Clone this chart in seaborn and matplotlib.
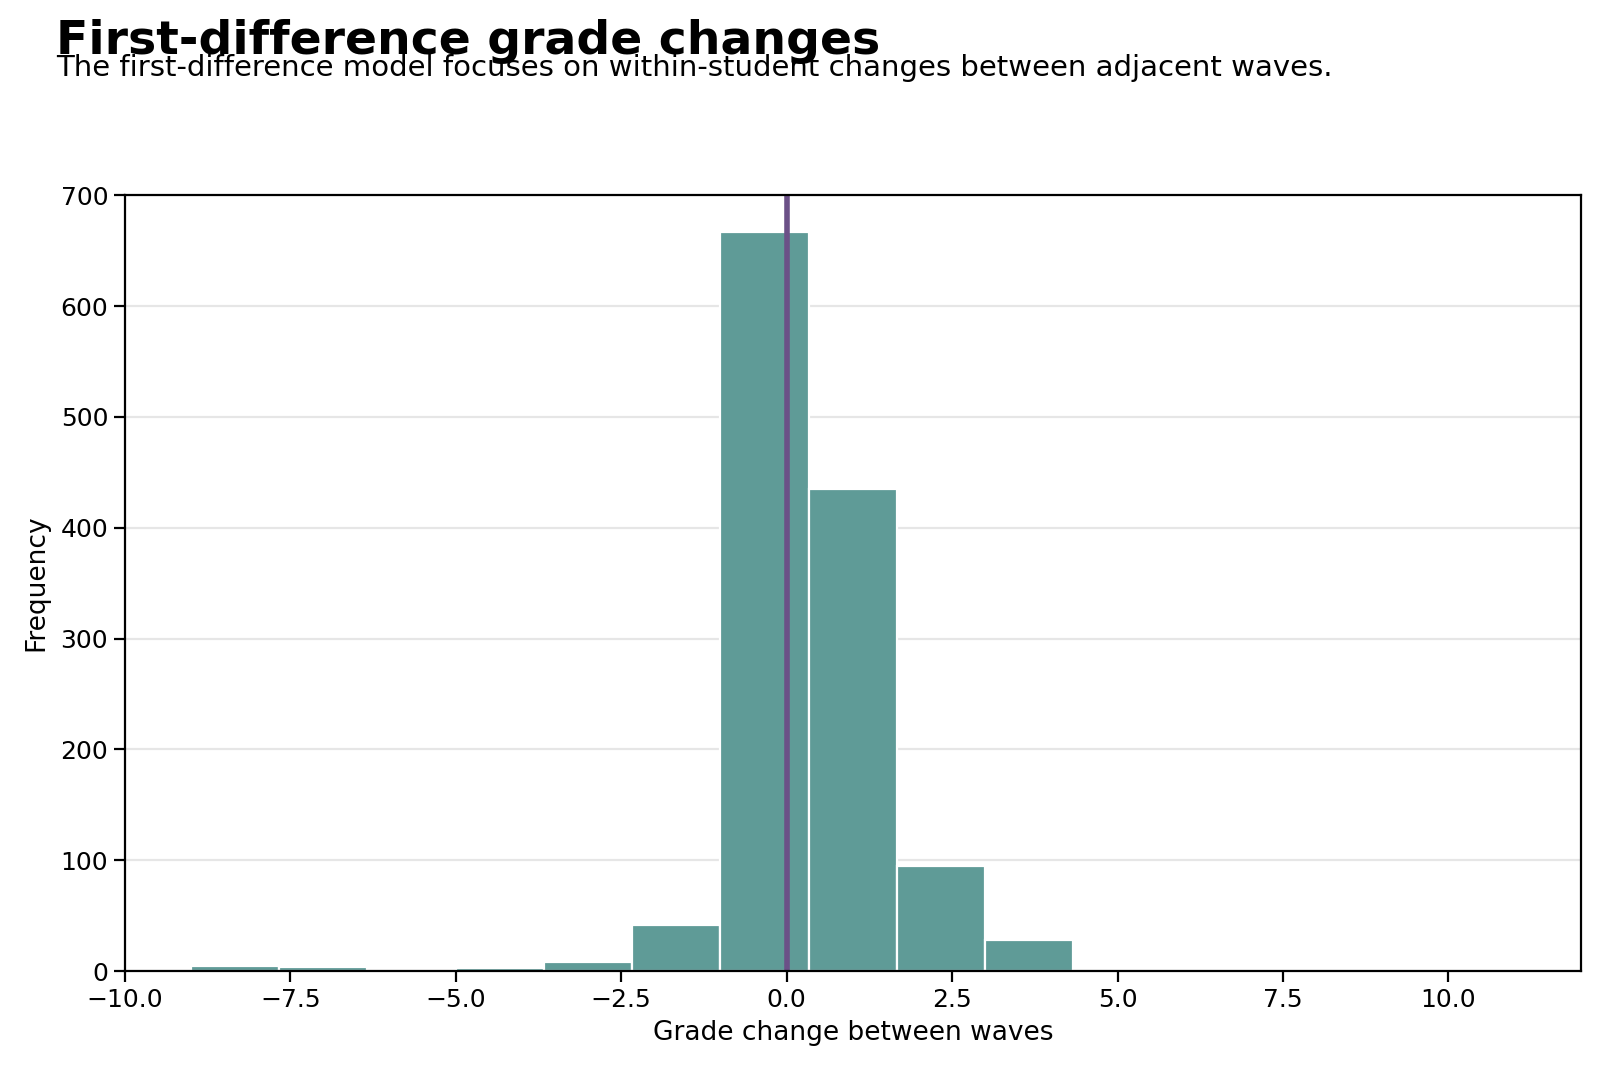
import numpy as np
import pandas as pd
import matplotlib
matplotlib.use("Agg")
import matplotlib.pyplot as plt
import seaborn as sns

# Histogram: 15 bins from -9 to 11, counts
bin_low = -9
bin_high = 11
n_bins = 15
bin_counts = [5, 4, 0, 3, 8, 42, 667, 435, 95, 28, 0, 0, 0, 0, 0]

title = "First-difference grade changes"
subtitle = "The first-difference model focuses on within-student changes between adjacent waves."
xlabel = "Grade change between waves"
ylabel = "Frequency"

sns.set_theme(style="ticks")
plt.rcParams['font.family'] = ['DejaVu Sans']
plt.rcParams['text.color'] = 'black'
plt.rcParams['axes.labelcolor'] = 'black'
plt.rcParams['xtick.color'] = 'black'
plt.rcParams['ytick.color'] = 'black'

bin_edges = np.linspace(bin_low, bin_high, n_bins + 1)
centers = (bin_edges[:-1] + bin_edges[1:]) / 2
df = pd.DataFrame({"change": centers, "count": np.array(bin_counts, dtype=float)})

fig = plt.figure(figsize=(8, 5.365), dpi=200)
ax = fig.add_axes([0.078, 0.095, 0.910, 0.723])

sns.histplot(data=df, x="change", weights="count", bins=n_bins,
             binrange=(bin_low, bin_high), ax=ax,
             color="#5f9b97", alpha=1.0, edgecolor="white", linewidth=0.8)
ax.axvline(0, color="#6b5087", linewidth=2)

ax.set_ylim(0, 700)
ax.set_xlim(-10, 12)
ax.set_xticks([-10, -7.5, -5, -2.5, 0, 2.5, 5, 7.5, 10])
ax.set_xticklabels(["\u221210.0", "\u22127.5", "\u22125.0", "\u22122.5", "0.0", "2.5", "5.0", "7.5", "10.0"])
ax.yaxis.grid(True, color="#e6e6e6", linewidth=0.8)
ax.set_axisbelow(True)
for s in ax.spines.values():
    s.set_color("black")
    s.set_linewidth(0.8)
ax.tick_params(axis="both", labelsize=9, colors="black", length=4, width=0.8, pad=2)
ax.set_xlabel(xlabel, fontsize=9.5, labelpad=3, color="black")
ax.set_ylabel(ylabel, fontsize=9.5, labelpad=4, color="black")

fig.text(0.035, 0.982, title, fontsize=17, fontweight="bold", ha="left", va="top", color="black")
fig.text(0.035, 0.950, subtitle, fontsize=10.5, ha="left", va="top", color="black")

fig.savefig("out.png", dpi=200)
